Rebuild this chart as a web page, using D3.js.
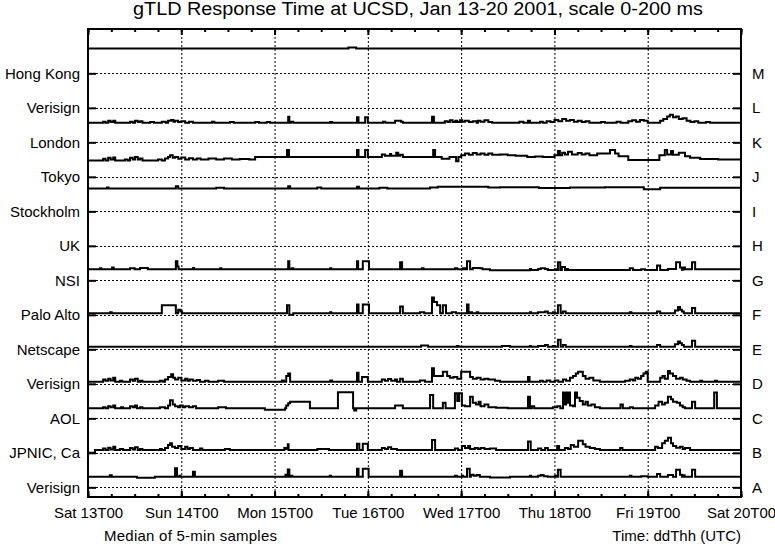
<!DOCTYPE html>
<html><head><meta charset="utf-8">
<script src="https://cdn.jsdelivr.net/npm/d3@7"></script>
<style>
body{margin:0;background:#fff}
text{font-family:"Liberation Sans",Arial,Helvetica,sans-serif;fill:#000}
</style>
</head><body>
<svg id="chart" width="775" height="546"></svg>
<script>
// ---------------- DATA ----------------
const title = "gTLD Response Time at UCSD, Jan 13-20 2001, scale 0-200 ms";
const rowLetters = ["A","B","C","D","E","F","G","H","I","J","K","L","M"];
const rowNames = ["Verisign","JPNIC, Ca","AOL","Verisign","Netscape","Palo Alto","NSI","UK","Stockholm","Tokyo","London","Verisign","Hong Kong"];
const startDate = Date.UTC(2001,0,13);
const endDate = Date.UTC(2001,0,20);
const xLabel = "Time: ddThh (UTC)";
const note = "Median of 5-min samples";
const msPerRow = 200;

// each series: [hours since Sat 13T00, response ms] (step points)
const seriesA = [[0,61],[5.6,70],[6.1,61],[12.6,55],[17.2,61],[22.4,110],[22.9,61],[23.5,67],[23.8,61],[27,90],[27.5,61],[50.8,73],[51.2,61],[51.4,103],[51.8,61],[52.2,67],[52.6,61],[62.2,67],[62.5,61],[69.2,108],[69.6,61],[70.7,108],[72.2,61],[80.3,96],[80.8,61],[94.4,67],[94.9,61],[96.2,67],[96.5,61],[97.5,108],[98.2,61],[98.5,73],[99.2,67],[100,72],[100.8,61],[103.4,57],[108.6,61],[113.7,67],[114,61],[115.8,67],[116.5,72],[117.2,64],[118.3,61],[120.1,67],[120.5,61],[120.9,102],[121.6,61],[139.4,67],[139.8,61],[142.3,65],[144,61],[146.4,78],[147.2,61],[149.2,72],[150.5,61],[151.3,102],[152.3,73],[152.8,61],[153.1,70],[153.5,61],[155.4,102],[156.2,61],[168,61]];
const seriesB = [[0,0],[1.8,16],[3.9,25],[4.5,16],[5.2,30],[5.8,20],[6.5,35],[7,16],[8.2,22],[9,16],[10.8,28],[11.5,20],[12.1,33],[12.8,16],[13.4,22],[14,16],[18.5,22],[19,16],[19.8,28],[20.6,45],[21.1,55],[21.6,35],[22.4,28],[23.2,40],[24,22],[25,35],[25.6,22],[26.2,28],[27,16],[28.8,25],[29.4,16],[35.2,22],[36.5,16],[50.5,28],[51,22],[51.4,50],[51.6,16],[59,22],[62,16],[69.2,52],[69.8,16],[70.7,52],[72,16],[75.6,28],[76.4,22],[77.2,33],[78,22],[79.5,16],[88.5,74],[89.3,16],[94.4,25],[95.2,16],[96.2,40],[97,28],[97.8,40],[98.3,22],[99.5,28],[100.3,22],[101,28],[102,22],[103.4,25],[105,16],[113.2,66],[113.9,16],[115.8,25],[116.6,16],[117.6,28],[118.3,16],[120.7,40],[121.2,16],[122.7,28],[123.5,22],[124.2,45],[125,35],[126.1,70],[127.3,50],[128,35],[129.1,28],[130.4,22],[131.7,16],[136.9,28],[137.5,16],[145.9,35],[146.6,28],[147.7,55],[148.4,70],[149.2,87],[150,55],[150.5,40],[151.3,30],[152.3,35],[153,22],[153.6,28],[154.9,16],[168,16]];
const seriesC = [[0,58],[3.9,64],[4.5,58],[5.2,70],[5.8,64],[6.5,75],[7,58],[8.5,64],[9,58],[10.8,70],[11.5,64],[12.1,75],[12.6,58],[13.4,64],[14,58],[18.5,64],[19.8,58],[20.6,75],[21.1,105],[21.8,80],[22.4,70],[23.2,64],[23.7,75],[24.4,64],[25,70],[26,64],[27,70],[27.8,58],[33.5,64],[35.5,58],[45.5,50],[50.7,58],[51,75],[51.5,88],[52,96],[57.1,58],[64.3,151],[68.2,58],[68.5,45],[69,58],[79,75],[81,58],[88,135],[88.8,58],[91.3,90],[92,58],[94.4,145],[95,100],[95.5,145],[96.2,75],[97,70],[98.3,125],[99,90],[99.8,80],[100.5,96],[101,70],[102,80],[103,64],[105,62],[108,58],[113.2,125],[113.7,58],[114.2,70],[114.8,58],[119.6,64],[120.7,70],[121.5,58],[122.2,150],[122.5,80],[123,150],[123.3,90],[123.7,150],[124,75],[124.8,70],[125.3,150],[125.8,120],[126.5,100],[127.3,80],[128,96],[128.6,75],[129.5,80],[130.4,64],[131.7,58],[137,80],[137.6,58],[139.4,64],[140.2,58],[145.9,75],[146.8,96],[147.7,80],[148.4,90],[149.2,125],[150,110],[150.5,96],[151.5,90],[152.3,75],[153,64],[153.6,58],[155.4,96],[156.2,58],[161.1,150],[161.8,58],[168,58]];
const seriesD = [[0,12],[3.9,25],[4.5,18],[5.2,30],[5.8,20],[6.5,35],[7,12],[8.2,18],[8.8,12],[10.8,25],[11.5,18],[12.1,30],[12.8,12],[13.4,18],[14,12],[18.5,18],[19.2,12],[19.8,25],[20.6,40],[21.4,55],[21.9,35],[22.4,25],[23.2,35],[24,20],[25,30],[25.6,18],[26.2,25],[27,18],[28,22],[28.8,12],[30.1,18],[31,12],[33.5,18],[35,12],[49.9,20],[50.4,12],[51,45],[51.5,60],[52,12],[62.3,20],[62.8,12],[69.2,65],[69.6,12],[70.5,40],[72,12],[75.6,25],[76.4,18],[77.2,28],[78,18],[79,25],[79.5,12],[80.3,30],[81,12],[85.4,20],[86.7,12],[88.5,90],[89,45],[91.3,70],[92.4,45],[93.1,35],[94,40],[95,30],[96,70],[98.3,40],[99,30],[100,35],[101,25],[102,30],[103,25],[104.7,18],[106,12],[113.2,40],[113.6,12],[116.3,18],[117,12],[118,20],[118.9,12],[120.1,20],[121,12],[122.2,25],[123,18],[124,35],[124.8,45],[125.5,60],[126.1,70],[127.3,45],[128,30],[129,35],[130,20],[131.7,12],[138.2,18],[139.4,25],[140.2,20],[140.8,35],[141.5,30],[142.3,45],[142.9,60],[143.5,70],[144,12],[147.2,35],[147.8,45],[148.4,30],[149.2,75],[149.7,60],[150.5,45],[151.3,30],[152.3,35],[153,25],[154,18],[154.9,12],[157.5,18],[158,12],[161.3,18],[161.8,12],[168,12]];
const seriesE = [[0,15],[85.7,22],[87.5,15],[94.9,20],[95.3,15],[106.5,20],[108.6,15],[113.7,20],[114,15],[115.8,20],[117.6,25],[118.3,15],[119.6,20],[120.1,15],[120.9,55],[121.6,15],[122.2,25],[122.9,15],[139.4,20],[139.8,15],[146.4,25],[147.2,15],[151,30],[151.8,45],[152.3,35],[152.8,25],[153.3,15],[155.4,50],[156.2,15],[168,15]];
const seriesF = [[0,9],[5.7,15],[6.1,9],[19,55],[22.6,9],[23.2,30],[23.8,20],[24.2,9],[51.2,55],[51.8,0],[52.8,9],[62.3,15],[62.6,9],[69.2,60],[69.6,9],[70.7,60],[72.3,9],[80.3,48],[81,9],[85.4,15],[86.5,9],[88.5,100],[89,75],[89.8,55],[90.6,9],[91.3,55],[92.1,9],[93.6,15],[94.7,9],[97.5,60],[97.9,9],[98.3,15],[98.8,9],[100,15],[100.4,9],[113.7,15],[114,9],[115.8,15],[117.6,20],[118.3,9],[119.6,15],[120.1,9],[120.9,55],[121.6,9],[122.2,20],[122.9,9],[139.4,15],[139.8,9],[146.4,20],[147.2,9],[151,25],[151.8,45],[152.3,30],[152.8,20],[153.3,9],[155.4,40],[156.2,9],[168,9]];
const seriesG = [[0,64],[3.1,70],[3.4,64],[6.2,75],[6.6,64],[10.8,70],[12,64],[13.4,72],[15.4,64],[22.6,110],[23,80],[23.3,64],[27,72],[27.3,64],[34,70],[34.3,64],[51.5,110],[51.8,64],[52.4,70],[52.8,64],[62.3,70],[62.6,64],[69.2,110],[69.5,64],[70.7,110],[72.3,64],[80.3,105],[80.8,64],[85.9,70],[86.3,64],[94.4,70],[95,64],[96.5,70],[97,64],[97.5,110],[98.3,64],[99,72],[100.8,70],[101.5,64],[103.4,58],[113.7,66],[114,60],[115.8,66],[116.5,70],[117.6,66],[118.3,60],[120.1,64],[120.5,60],[120.9,105],[121.5,60],[121.9,78],[122.7,60],[123.2,66],[123.5,60],[139.4,70],[140.2,60],[142.3,64],[143.3,60],[146.4,86],[147.2,60],[149.2,66],[151.3,105],[152.3,75],[152.8,62],[153.1,75],[153.6,64],[155.4,105],[156.2,64],[168,64]];
const seriesI = [[0,133],[4.9,138],[5.3,133],[22.6,145],[23.2,133],[33,137],[35,133],[51.5,145],[52,133],[59,138],[60,133],[69.2,143],[69.7,133],[75,137],[77,133],[88,138],[90,143],[103,138],[106,140],[116,135],[124,138],[133,140],[143,128],[147.2,137],[168,137]];
const seriesJ = [[0,94],[3.9,105],[4.5,94],[5.2,110],[5.8,100],[6.5,112],[7,94],[9.5,100],[10.2,94],[10.8,110],[11.5,100],[12.1,115],[12.8,100],[13.4,106],[14,94],[18,100],[19,94],[19.8,106],[20.6,115],[21.1,125],[21.8,110],[22.4,115],[23.2,105],[24,112],[25,100],[26,108],[27,100],[28,106],[29,100],[31,106],[33,100],[35,106],[37,100],[39,104],[41.5,100],[43,115],[51.2,155],[51.7,115],[69.2,155],[69.6,115],[71.3,155],[72,115],[75.6,130],[76.4,122],[77.7,132],[78,122],[79.3,140],[79.8,122],[80.3,128],[81,115],[88.8,155],[89.3,115],[91,105],[93,115],[94.7,90],[95.3,115],[96,125],[97,135],[98,128],[99,138],[100,130],[101,135],[102,128],[103,135],[104,128],[106,130],[108,125],[110,122],[113,115],[115,118],[117,115],[120,125],[120.9,150],[121.4,125],[122,140],[122.7,130],[123.5,145],[124.5,130],[126,138],[127,130],[128,135],[129,125],[131,135],[134.3,155],[135.6,135],[136.5,120],[139,97],[147,125],[148.4,155],[149,130],[150,150],[150.5,128],[152,140],[153.6,120],[154.9,110],[157.5,104],[162.1,100],[168,100]];
const seriesK = [[0,114],[3.9,120],[4.5,114],[5.2,125],[5.8,118],[6.5,125],[7,114],[10.8,120],[11.5,114],[12.1,125],[12.8,118],[13.4,122],[14,114],[16,118],[17,114],[19,120],[20,114],[20.6,125],[21.4,130],[22,120],[22.4,125],[23.2,118],[24,122],[25,114],[26,120],[27,114],[31.9,120],[32.5,114],[36.5,118],[37.5,114],[43,118],[44,114],[46,118],[46.8,114],[51.5,148],[51.8,114],[52.2,120],[52.8,114],[62.3,118],[62.8,114],[69.2,145],[69.6,114],[71.3,145],[72,114],[75.9,120],[76.5,114],[79,125],[80.5,120],[81,114],[88.5,148],[89,114],[91.8,122],[92.5,118],[93.1,128],[93.8,118],[94.5,125],[95,118],[95.7,128],[96.3,120],[97,125],[98,118],[99,122],[100,114],[100.3,125],[101,120],[102,128],[103,118],[104,114],[111,120],[112,114],[113.2,125],[113.7,114],[116.3,120],[117,114],[118,122],[119,118],[120,130],[121,122],[122,135],[123,125],[124,130],[125,120],[126,125],[127,118],[128,122],[129,114],[132,118],[133,114],[136,120],[137,114],[139,122],[140,128],[141,120],[142,130],[143,125],[144,114],[147.2,125],[148,135],[149,150],[149.7,160],[150.5,145],[151.3,150],[152,135],[153,140],[154,125],[155,118],[156,122],[157,114],[159,118],[160,114],[168,114]];
const seriesM = [[0,144],[67,150],[69,144],[168,144]];

const plotted = [
  {row:0, data:seriesA},{row:1, data:seriesB},{row:2, data:seriesC},{row:3, data:seriesD},
  {row:4, data:seriesE},{row:5, data:seriesF},{row:6, data:seriesG},{row:8, data:seriesI},
  {row:9, data:seriesJ},{row:10, data:seriesK},{row:12, data:seriesM}
];

// ---------------- CHART ----------------
const svg = d3.select("#chart");
const L = 88, R = 741, T = 29, B = 497;
const x = d3.scaleUtc().domain([startDate, endDate]).range([L, R]);
const y = d3.scaleLinear().domain([-56, 2657]).range([B, T]);
const rowVals = rowLetters.map((d,i)=>i*msPerRow);

svg.append("text").attr("x",418).attr("y",15).attr("text-anchor","middle")
  .attr("font-size",18).attr("textLength",570).attr("lengthAdjust","spacingAndGlyphs").text(title);

// grid
const g = svg.append("g");
const days = d3.utcDay.range(new Date(startDate), new Date(endDate+1));
g.selectAll(".vg").data(days.slice(1,-1)).join("line")
  .attr("x1",d=>x(d)+0.5).attr("x2",d=>x(d)+0.5).attr("y1",T).attr("y2",B)
  .attr("stroke","#000").attr("stroke-width",1).attr("stroke-dasharray","2,2");
g.selectAll(".hg").data(rowVals).join("line")
  .attr("x1",L).attr("x2",R).attr("y1",d=>Math.round(y(d))+0.5).attr("y2",d=>Math.round(y(d))+0.5)
  .attr("stroke","#000").attr("stroke-width",1).attr("stroke-dasharray","2,2");

// series
const line = d3.line().x(d=>x(new Date(startDate + d[0]*3600e3))).y(d=>y(d[2])).curve(d3.curveStepAfter);
svg.append("clipPath").attr("id","clp").append("rect").attr("x",L).attr("y",T).attr("width",R-L).attr("height",B-T);
svg.append("g").attr("clip-path","url(#clp)").selectAll("path").data(plotted).join("path")
  .attr("d",s=>line(s.data.map(p=>[p[0],p[1],s.row*msPerRow+p[1]])))
  .attr("fill","none").attr("stroke","#000").attr("stroke-width",2);

// axes
function clean(sel){ sel.select(".domain").remove(); sel.selectAll("line").attr("stroke-width",2); sel.selectAll("text").attr("font-size",15).attr("font-family",'"Liberation Sans",Arial,sans-serif'); }
const fmt = d3.utcFormat("%a %dT%H");
svg.append("g").attr("transform",`translate(0,${B})`)
  .call(d3.axisBottom(x).tickValues(days).tickSize(-6).tickPadding(10).tickFormat(fmt)).call(clean);
svg.append("g").attr("transform",`translate(0,${B})`)
  .call(d3.axisBottom(x).ticks(d3.utcHour.every(6)).tickSize(-3).tickFormat("")).call(clean);
svg.append("g").attr("transform",`translate(0,${T})`)
  .call(d3.axisTop(x).tickValues(days).tickSize(-6).tickFormat("")).call(clean);
svg.append("g").attr("transform",`translate(0,${T})`)
  .call(d3.axisTop(x).ticks(d3.utcHour.every(6)).tickSize(-3).tickFormat("")).call(clean);
svg.append("g").attr("transform",`translate(${L},0)`)
  .call(d3.axisLeft(y).tickValues(rowVals).tickSize(-8).tickPadding(8).tickFormat((d,i)=>rowNames[i])).call(clean);
svg.append("g").attr("transform",`translate(${R},0)`)
  .call(d3.axisRight(y).tickValues(rowVals).tickSize(-8).tickPadding(11).tickFormat((d,i)=>rowLetters[i])).call(clean);

// frame
svg.append("rect").attr("x",L).attr("y",T).attr("width",R-L).attr("height",B-T)
  .attr("fill","none").attr("stroke","#000").attr("stroke-width",2);

svg.append("text").attr("x",104).attr("y",541).attr("font-size",15).attr("textLength",173).text(note);
svg.append("text").attr("x",741).attr("y",541).attr("font-size",15).attr("text-anchor","end").text(xLabel);
</script>
</body></html>
